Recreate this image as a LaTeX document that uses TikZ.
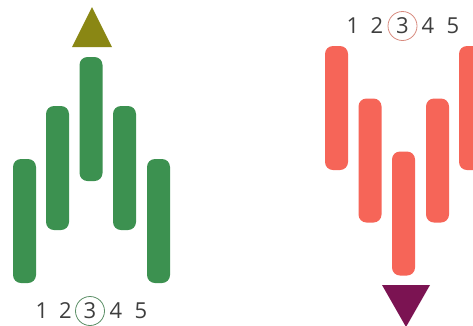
\documentclass[tikz,border=0pt]{standalone}
\usepackage{fontspec}
\setmainfont{Open Sans}
\usepackage{tikz}
\usetikzlibrary{positioning}
\definecolor{BarGreen}{HTML}{3C9150}
\definecolor{BarRed}{HTML}{F66558}
\definecolor{UpOlive}{HTML}{8A8714}
\definecolor{DownPlum}{HTML}{7B1352}
\definecolor{DigitGray}{HTML}{3E3E3E}
\definecolor{RingGreen}{HTML}{5B8F66}
\definecolor{RingRed}{HTML}{D88A7E}

\begin{document}
\begin{tikzpicture}[x=1pt,y=-1pt,
  bar/.style={rounded corners=8pt,minimum width=23pt,minimum height=124pt,inner sep=0pt},
  digit/.style={font=\fontsize{22}{22}\selectfont,text=DigitGray,inner sep=0pt},
  ring/.style={circle,draw,line width=0.8pt,minimum size=29pt,inner sep=0pt}]
\useasboundingbox[fill=white] (0,0) rectangle (473,325);
% rising set
\node[bar,fill=BarGreen] (g1) at (24.5,221) {};
\node[bar,fill=BarGreen] (g2) at (57.5,168) {};
\node[bar,fill=BarGreen] (g3) at (91,119) {};
\node[bar,fill=BarGreen] (g4) at (124.5,168) {};
\node[bar,fill=BarGreen] (g5) at (158.5,221) {};
\coordinate (gtip) at (92,7);
\fill[UpOlive] (gtip) -- ++(-20,40) -- ++(40,0) -- cycle;
\node[digit] (gn1) at (42,311) {1};
\node[digit] (gn2) at (65.5,311) {2};
\node[digit] (gn3) at (90,311) {3};
\node[digit] (gn4) at (116,311) {4};
\node[digit] (gn5) at (141,311) {5};
\node[ring,draw=RingGreen] (gring) at (gn3) {};
% falling set
\node[bar,fill=BarRed] (r1) at (336.5,108) {};
\node[bar,fill=BarRed] (r2) at (370,160.5) {};
\node[bar,fill=BarRed] (r3) at (403.5,213.5) {};
\node[bar,fill=BarRed] (r4) at (437.5,160.5) {};
\node[bar,fill=BarRed] (r5) at (470.5,108) {};
\coordinate (rtip) at (406,327);
\fill[DownPlum] (rtip) -- ++(-24,-42) -- ++(48,0) -- cycle;
\node[digit] (rn1) at (353,26) {1};
\node[digit] (rn2) at (377,26) {2};
\node[digit] (rn3) at (402.5,26) {3};
\node[digit] (rn4) at (428,26) {4};
\node[digit] (rn5) at (453,26) {5};
\node[ring,draw=RingRed] (rring) at (rn3) {};
\end{tikzpicture}
\end{document}
